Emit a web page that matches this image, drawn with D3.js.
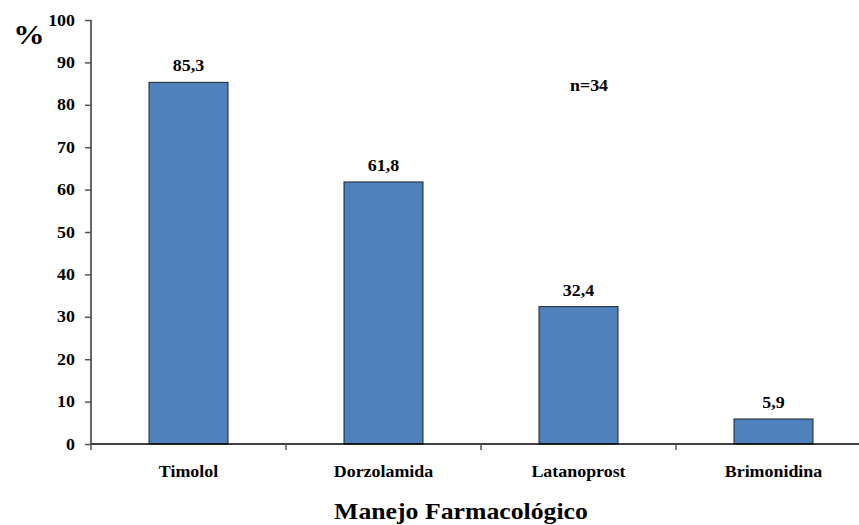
<!DOCTYPE html>
<html>
<head>
<meta charset="utf-8">
<script src="https://cdn.jsdelivr.net/npm/d3@7"></script>
<style>
  html, body { margin: 0; padding: 0; background: #fff; }
</style>
</head>
<body>
<svg id="chart" width="859" height="525"></svg>
<script>
// Fármacos y porcentaje de pacientes (n=34)
const categories = ["Timolol", "Dorzolamida", "Latanoprost", "Brimonidina"];
const values = [85.3, 61.8, 32.4, 5.9];
const yTicks = [0, 10, 20, 30, 40, 50, 60, 70, 80, 90, 100];

const FONT = "Liberation Serif, Times New Roman, serif";
const STRETCH = 1.12; // slightly widened lettering
const svg = d3.select("#chart");
const plotLeft = 91, plotTop = 20, plotBottom = 444, slotEnd = 871;

const y = d3.scaleLinear().domain([0, 100]).range([plotBottom, plotTop]);
const x = d3.scaleBand().domain(categories).range([plotLeft, slotEnd]).padding(0);
const barW = x.bandwidth() * 0.405;

// bold serif text, widened horizontally around its anchor point
function label(sel, size) {
  sel.attr("font-family", FONT).attr("font-weight", "bold")
    .attr("font-size", size).attr("fill", "#000");
  sel.each(function () {
    const t = d3.select(this);
    const tx = +t.attr("x") || 0, ty = +t.attr("y") || 0;
    t.attr("x", 0).attr("y", 0)
      .attr("transform", `translate(${tx},${ty}) scale(${STRETCH},1)`);
  });
  return sel;
}

// Barras
svg.append("g").selectAll("rect")
  .data(values)
  .join("rect")
  .attr("x", (d, i) => x(categories[i]) + (x.bandwidth() - barW) / 2)
  .attr("y", d => y(d))
  .attr("width", barW)
  .attr("height", d => y(0) - y(d))
  .attr("fill", "#4F81BD")
  .attr("stroke", "#222")
  .attr("stroke-width", 1);

// Etiquetas de valor
label(svg.append("g").selectAll("text")
  .data(values)
  .join("text")
  .attr("x", (d, i) => x(categories[i]) + x.bandwidth() / 2)
  .attr("y", d => y(d) - 11)
  .attr("text-anchor", "middle")
  .text(d => d3.format(".1f")(d).replace(".", ",")), 16);

// Eje Y
const yAxis = svg.append("g")
  .attr("transform", `translate(${plotLeft},0)`)
  .call(d3.axisLeft(y).tickValues(yTicks).tickSize(6).tickPadding(10).tickFormat(d3.format("d")));
yAxis.attr("font-family", null).attr("font-size", null);
yAxis.select(".domain").attr("stroke", "#333").attr("stroke-width", 1.5).attr("d", `M0,${plotTop}V${plotBottom}`);
yAxis.selectAll(".tick line").attr("stroke", "#555").attr("stroke-width", 1.5);
yAxis.selectAll(".tick text").attr("dy", null).attr("y", 5);
label(yAxis.selectAll(".tick text"), 16);

// Eje X
const xAxisG = svg.append("g");
xAxisG.append("line")
  .attr("x1", plotLeft).attr("x2", 859)
  .attr("y1", plotBottom).attr("y2", plotBottom)
  .attr("stroke", "#000").attr("stroke-width", 1.5);
const bounds = categories.map(c => x(c)).concat([x(categories[categories.length - 1]) + x.bandwidth()]);
xAxisG.selectAll("line.tk")
  .data(bounds)
  .join("line")
  .attr("class", "tk")
  .attr("x1", d => d).attr("x2", d => d)
  .attr("y1", plotBottom).attr("y2", plotBottom + 6)
  .attr("stroke", "#555").attr("stroke-width", 1.5);
label(xAxisG.selectAll("text")
  .data(categories)
  .join("text")
  .attr("x", c => x(c) + x.bandwidth() / 2)
  .attr("y", 477)
  .attr("text-anchor", "middle")
  .text(c => c), 16);

// Títulos
label(svg.append("text")
  .attr("x", 461).attr("y", 519)
  .attr("text-anchor", "middle")
  .text("Manejo Farmacológico"), 23);

label(svg.append("text")
  .attr("x", 29).attr("y", 44)
  .attr("text-anchor", "middle")
  .text("%"), 28);

label(svg.append("text")
  .attr("x", 589).attr("y", 91)
  .attr("text-anchor", "middle")
  .text("n=34"), 16);
</script>
</body>
</html>
